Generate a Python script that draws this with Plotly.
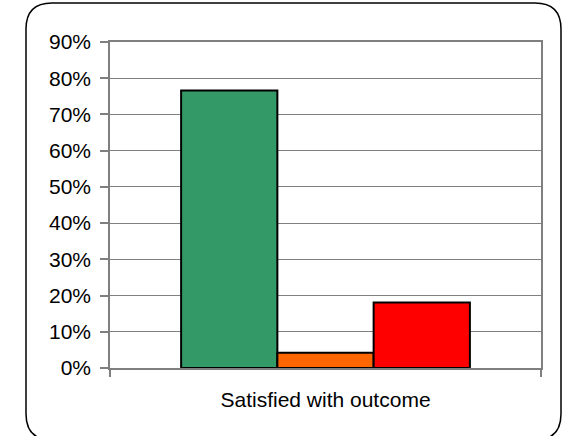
import plotly.graph_objects as go

# Survey result: share of respondents per answer
category = ["Satisfied with outcome"]
series_names = ["Yes", "Partly", "No"]
series_values = [0.766, 0.042, 0.181]
series_colors = ["#339966", "#FF6600", "#FF0000"]

W, H = 562, 436
L, R, T, B = 110, 21, 42, 68
plot_w = W - L - R
plot_h = H - T - B


def px(x):
    return (x - L) / plot_w


def py(y):
    return (H - B - y) / plot_h


fig = go.Figure()
for name, val, col in zip(series_names, series_values, series_colors):
    fig.add_trace(go.Bar(
        x=category, y=[val], name=name,
        marker=dict(color=col, line=dict(color="black", width=2)),
        hoverinfo="name+y",
    ))

# rounded frame around the whole chart
x0, x1, y0, y1, r = 26, 561, 3, 440, 26
frame = (
    f"M {px(x0 + r)},{py(y0)} L {px(x1 - r)},{py(y0)} "
    f"Q {px(x1)},{py(y0)} {px(x1)},{py(y0 + r)} "
    f"L {px(x1)},{py(y1 - r)} Q {px(x1)},{py(y1)} {px(x1 - r)},{py(y1)} "
    f"L {px(x0 + r)},{py(y1)} Q {px(x0)},{py(y1)} {px(x0)},{py(y1 - r)} "
    f"L {px(x0)},{py(y0 + r)} Q {px(x0)},{py(y0)} {px(x0 + r)},{py(y0)} Z"
)

fig.update_layout(
    width=W, height=H,
    margin=dict(l=L, r=R, t=T, b=B),
    paper_bgcolor="white", plot_bgcolor="white",
    barmode="group", bargap=0.33, bargroupgap=0,
    showlegend=False,
    font=dict(family="Liberation Sans, Arial, sans-serif", size=21, color="black"),
    shapes=[dict(type="path", xref="paper", yref="paper", path=frame,
                 line=dict(color="black", width=1.5), layer="above")],
)
fig.update_xaxes(
    showline=True, linecolor="#7f7f7f", linewidth=1.5, mirror=True,
    ticks="outside", tickson="boundaries", ticklen=7, tickcolor="#7f7f7f",
    tickwidth=1.5, showgrid=False, ticklabelstandoff=12,
)
fig.update_yaxes(
    range=[0, 0.9], dtick=0.1, tickformat=".0%",
    showline=True, linecolor="#7f7f7f", linewidth=1.5, mirror=True,
    ticks="outside", ticklen=8, tickcolor="#7f7f7f", tickwidth=1.5,
    showgrid=True, gridcolor="#808080", gridwidth=1, zeroline=False,
    ticklabelstandoff=5,
)

fig.write_html("out.html")
